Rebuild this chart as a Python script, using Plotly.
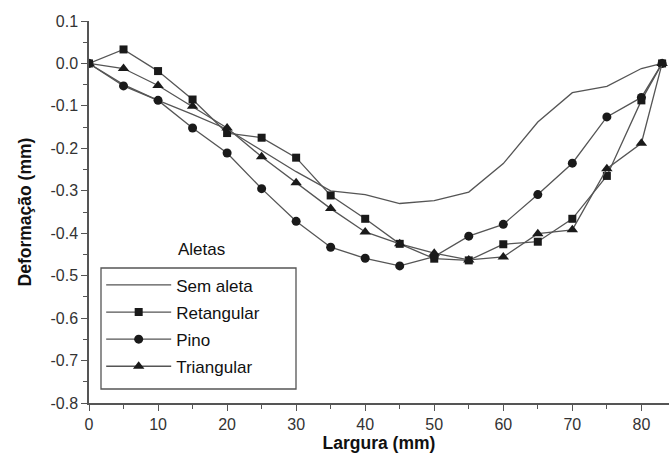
import plotly.graph_objects as go

x = [0, 5, 10, 15, 20, 25, 30, 35, 40, 45, 50, 55, 60, 65, 70, 75, 80, 83]
sem_aleta = [0, -0.05, -0.087, -0.12, -0.155, -0.205, -0.255, -0.30, -0.309, -0.33, -0.323, -0.303, -0.236, -0.138, -0.069, -0.054, -0.012, 0]
retangular = [0, 0.033, -0.018, -0.085, -0.164, -0.175, -0.222, -0.311, -0.366, -0.425, -0.46, -0.464, -0.426, -0.42, -0.366, -0.265, -0.087, 0]
pino = [0, -0.053, -0.087, -0.152, -0.211, -0.295, -0.372, -0.433, -0.459, -0.477, -0.455, -0.407, -0.379, -0.309, -0.235, -0.126, -0.08, 0]
triangular = [0, -0.012, -0.052, -0.101, -0.152, -0.22, -0.281, -0.342, -0.397, -0.425, -0.447, -0.463, -0.456, -0.401, -0.392, -0.248, -0.188, 0]

ytick_vals = [0.1, 0.0, -0.1, -0.2, -0.3, -0.4, -0.5, -0.6, -0.7, -0.8]
ytick_text = ["0.1", "0.0", "-0.1", "-0.2", "-0.3", "-0.4", "-0.5", "-0.6", "-0.7", "-0.8"]
xtick_vals = [0, 10, 20, 30, 40, 50, 60, 70, 80]
xtick_text = ["0", "10", "20", "30", "40", "50", "60", "70", "80"]

line_col = "#555555"
mk_col = "#1a1a1a"

fig = go.Figure()
fig.add_trace(go.Scatter(x=x, y=sem_aleta, mode="lines", name="Sem aleta", legendgroup="a",
                         line=dict(color=line_col, width=1.3)))
fig.add_trace(go.Scatter(x=x, y=retangular, mode="lines+markers", name="Retangular", legendgroup="b",
                         line=dict(color=line_col, width=1.3),
                         marker=dict(symbol="square", size=8, color=mk_col)))
fig.add_trace(go.Scatter(x=x, y=pino, mode="lines+markers", name="Pino", legendgroup="c",
                         line=dict(color=line_col, width=1.3),
                         marker=dict(symbol="circle", size=9, color=mk_col)))
fig.add_trace(go.Scatter(x=x, y=triangular, mode="lines+markers", name="Triangular", legendgroup="d",
                         line=dict(color=line_col, width=1.3),
                         marker=dict(symbol="triangle-up", size=10, color=mk_col)))

font_family = "Liberation Sans, Arial, sans-serif"

def px_x(p):
    return (p - 89) / 580

def px_y(p):
    return (403 - p) / 382

fig.update_layout(
    width=669, height=458,
    margin=dict(l=89, r=0, t=21, b=55),
    plot_bgcolor="white", paper_bgcolor="white",
    font=dict(family=font_family, color="#333333", size=16),
    showlegend=True,
    legend=dict(x=0.021, y=0.355, xanchor="left", yanchor="top",
                borderwidth=0, bgcolor="rgba(0,0,0,0)",
                font=dict(size=17, color="#111111"), tracegroupgap=2,
                itemwidth=65),
    xaxis=dict(range=[0, 84], showgrid=False, zeroline=False,
               showline=True, linecolor=line_col, linewidth=1.5,
               tickmode="array", tickvals=xtick_vals, ticktext=xtick_text,
               ticks="outside", ticklen=6, tickcolor=line_col, tickwidth=1.2,
               minor=dict(ticks="outside", ticklen=4, tickcolor=line_col, tickmode="linear", tick0=5, dtick=10),
               tickfont=dict(size=16, color="#333333"),
               title=dict(text="<b>Largura (mm)</b>", font=dict(size=17.5, color="#111111"), standoff=4)),
    yaxis=dict(range=[-0.8, 0.1], showgrid=False, zeroline=False,
               showline=True, linecolor=line_col, linewidth=1.5,
               tickmode="array", tickvals=ytick_vals, ticktext=ytick_text,
               ticks="outside", ticklen=6, tickcolor=line_col, tickwidth=1.2,
               minor=dict(ticks="outside", ticklen=4, tickcolor=line_col, tickmode="linear", tick0=0.05, dtick=0.1),
               tickfont=dict(size=16, color="#333333"),
               title=dict(text="<b>Deformação (mm)</b>", font=dict(size=17.5, color="#111111"), standoff=14)),
    annotations=[dict(text="Aletas", x=px_x(176), y=px_y(250),
                      xref="paper", yref="paper", showarrow=False,
                      font=dict(size=17, color="#111111"))],
    shapes=[dict(type="rect", xref="paper", yref="paper",
                 x0=px_x(101), x1=px_x(296), y0=px_y(389), y1=px_y(268),
                 line=dict(color=line_col, width=1.3), fillcolor="white", layer="above")],
)

fig.write_html("out.html")
